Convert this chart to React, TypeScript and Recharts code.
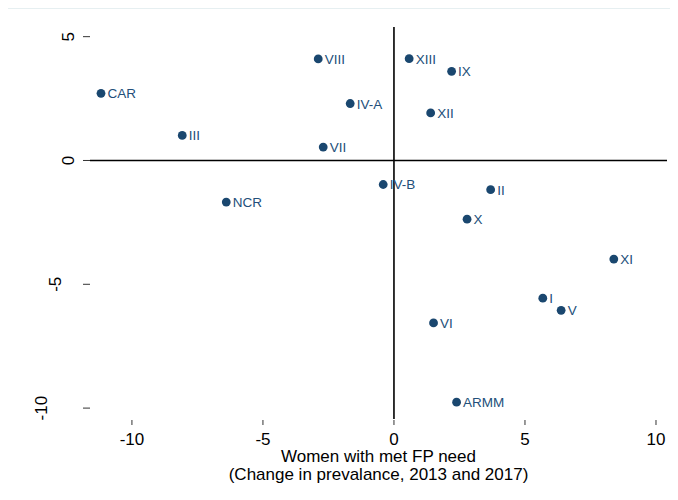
import { ScatterChart, Scatter, XAxis, YAxis, ReferenceLine, Label } from 'recharts';

const regions = ['CAR', 'III', 'NCR', 'VIII', 'VII', 'IV-A', 'XIII', 'IX', 'XII', 'IV-B', 'II', 'X', 'XI', 'I', 'V', 'VI', 'ARMM'];
const metNeedChange = [-11.18, -8.08, -6.4, -2.89, -2.7, -1.67, 0.58, 2.2, 1.4, -0.41, 3.69, 2.79, 8.39, 5.68, 6.38, 1.51, 2.39];
const otherChange = [2.71, 1.01, -1.68, 4.1, 0.54, 2.3, 4.11, 3.6, 1.92, -0.97, -1.18, -2.37, -3.98, -5.56, -6.05, -6.56, -9.76];
const xTicks = [-10, -5, 0, 5, 10];
const yTicks = [-10, -5, 0, 5];

const data = regions.map((name, i) => ({ name, x: metNeedChange[i], y: otherChange[i] }));

const FONT = '"Liberation Sans", Arial, sans-serif';
const NAVY = '#1a476f';

const Dot = (props: any) => {
  const { cx, cy, payload } = props;
  return (
    <g>
      <circle cx={cx} cy={cy} r={4.4} fill={NAVY} />
      <text x={cx + 6.5} y={cy + 5} fontSize={13.5} fontFamily={FONT} fill="#234f7a">
        {payload.name}
      </text>
    </g>
  );
};

const XTick = (props: any) => {
  const { x, payload } = props;
  return (
    <g>
      <line x1={x} x2={x} y1={420} y2={425} stroke="#333" strokeWidth={1} />
      <text x={x} y={445} textAnchor="middle" fontSize={17} fontFamily={FONT} fill="#000">
        {payload.value}
      </text>
    </g>
  );
};

const YTick = (props: any) => {
  const { y, payload } = props;
  const label = String(payload.value);
  const cx = 82 - 13.5 * label.length;
  const bx = cx + 6;
  return (
    <g>
      <line x1={83} x2={90} y1={y} y2={y} stroke="#333" strokeWidth={1} />
      <text
        x={bx}
        y={y}
        textAnchor="middle"
        fontSize={17}
        fontFamily={FONT}
        fill="#000"
        transform={`rotate(-90 ${bx} ${y})`}
      >
        {label}
      </text>
    </g>
  );
};

const XTitle = (props: any) => {
  const { viewBox } = props;
  const cx = viewBox.x + viewBox.width / 2;
  return (
    <text textAnchor="middle" fontSize={17} fontFamily={FONT} fill="#000">
      <tspan x={cx} y={462}>Women with met FP need</tspan>
      <tspan x={cx} y={480}>(Change in prevalance, 2013 and 2017)</tspan>
    </text>
  );
};

export default function App() {
  return (
    <div style={{ position: 'relative', marginLeft: -8, marginTop: -8, width: 678, height: 500, background: '#fff' }}>
      <div style={{ position: 'absolute', top: 8, left: 4, width: 674, height: 1, background: '#e6eff1' }} />
      <ScatterChart width={678} height={500} margin={{ top: 27, right: 11, bottom: 0, left: 0 }}>
        <XAxis
          type="number"
          dataKey="x"
          domain={[-11.6, 10.42]}
          ticks={xTicks}
          allowDataOverflow
          axisLine={false}
          tickLine={false}
          tick={<XTick />}
          height={81}
          interval={0}
        >
          <Label content={<XTitle />} />
        </XAxis>
        <YAxis
          type="number"
          dataKey="y"
          domain={[-10.44, 5.39]}
          ticks={yTicks}
          allowDataOverflow
          axisLine={false}
          tickLine={false}
          tick={<YTick />}
          width={90}
          interval={0}
        />
        <ReferenceLine x={0} stroke="#000" strokeWidth={1.6} />
        <ReferenceLine y={0} stroke="#000" strokeWidth={1.6} />
        <Scatter data={data} shape={<Dot />} isAnimationActive={false} />
      </ScatterChart>
    </div>
  );
}
